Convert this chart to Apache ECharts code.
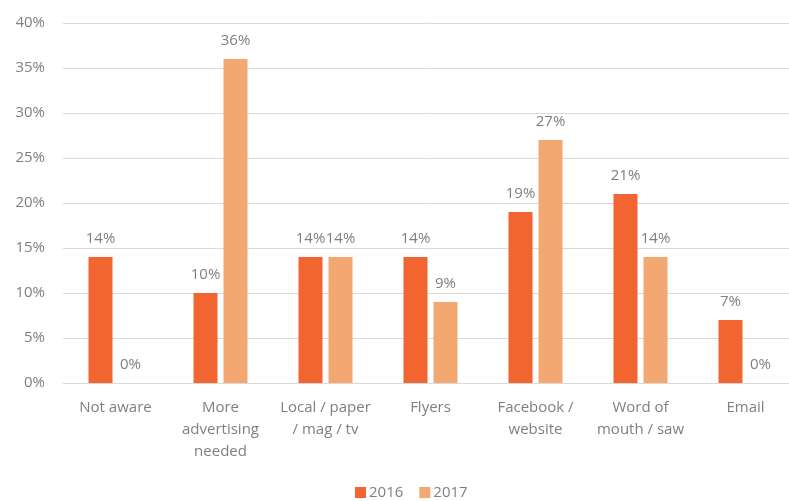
<!DOCTYPE html>
<html>
<head>
<meta charset="utf-8">
<script src="https://cdn.jsdelivr.net/npm/echarts@6/dist/echarts.min.js"></script>
<style>
  html, body { margin: 0; padding: 0; background: #fff; overflow: hidden; }
  #chart { width: 798px; height: 501px; }
</style>
</head>
<body>
<div id="chart"></div>
<script>
const categories = [
  'Not aware',
  'More\nadvertising\nneeded',
  'Local / paper\n/ mag / tv',
  'Flyers',
  'Facebook /\nwebsite',
  'Word of\nmouth / saw',
  'Email'
];
const seriesNames = ['2016', '2017'];
const values2016 = [14, 10, 14, 14, 19, 21, 7];
const values2017 = [0, 36, 14, 9, 27, 14, 0];
const colors = ['#F26430', '#F3A872'];

const textColor = '#7f7f7f';
const fontFamily = '"Open Sans", "DejaVu Sans", sans-serif';

const labelStyle = {
  show: true,
  position: 'top',
  distance: 11,
  color: textColor,
  fontSize: 15,
  fontFamily: fontFamily,
  formatter: p => p.value + '%'
};

const chart = echarts.init(document.getElementById('chart'), null, { renderer: 'canvas' });
chart.setOption({
  animation: false,
  backgroundColor: '#ffffff',
  grid: { left: 63, top: 23, right: 0, height: 360, containLabel: false },
  legend: {
    bottom: 1,
    left: 355,
    padding: 0,
    itemWidth: 11,
    itemHeight: 11,
    itemGap: 16,
    icon: 'rect',
    textStyle: { color: textColor, fontSize: 15, fontFamily: fontFamily, padding: [0, 0, 0, -2] },
    data: seriesNames
  },
  xAxis: {
    type: 'category',
    data: categories,
    axisLine: { lineStyle: { color: '#d9d9d9', width: 1 } },
    axisTick: { show: false },
    axisLabel: {
      color: textColor,
      fontSize: 15,
      fontFamily: fontFamily,
      lineHeight: 22,
      margin: 14,
      interval: 0
    }
  },
  yAxis: {
    type: 'value',
    min: 0,
    max: 40,
    interval: 5,
    axisLine: { show: false },
    axisTick: { show: false },
    splitLine: { lineStyle: { color: '#d9d9d9', width: 1 } },
    axisLabel: {
      color: textColor,
      fontSize: 15,
      fontFamily: fontFamily,
      margin: 18,
      formatter: v => v + '%'
    }
  },
  series: [
    {
      name: seriesNames[0],
      type: 'bar',
      data: values2016,
      barWidth: 24,
      barGap: '25%',
      itemStyle: { color: colors[0] },
      label: labelStyle
    },
    {
      name: seriesNames[1],
      type: 'bar',
      data: values2017,
      barWidth: 24,
      itemStyle: { color: colors[1] },
      label: labelStyle
    }
  ]
});
</script>
</body>
</html>
